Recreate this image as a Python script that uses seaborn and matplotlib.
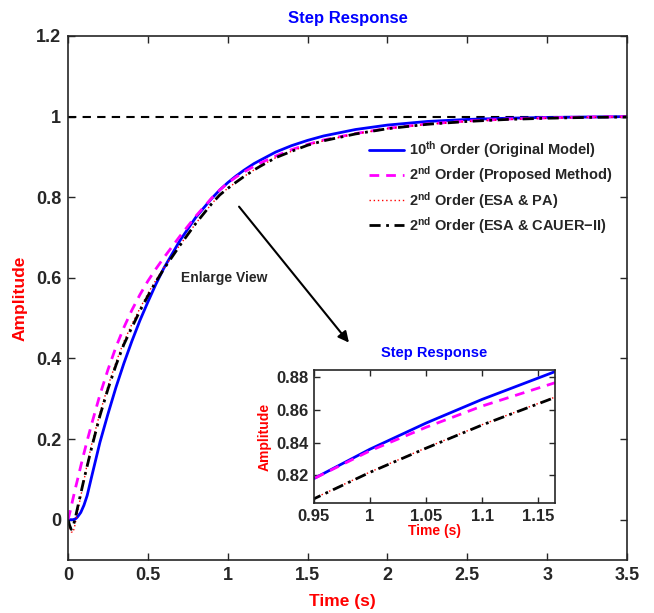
import matplotlib
matplotlib.use("Agg")
import matplotlib.pyplot as plt
import seaborn as sns
import numpy as np
from matplotlib.ticker import FuncFormatter, FixedLocator

# ---------------- data ----------------
time_s = [0, 0.01, 0.02, 0.03, 0.04, 0.05, 0.06, 0.08, 0.1, 0.12, 0.15, 0.2, 0.25, 0.3,
          0.35, 0.4, 0.45, 0.5, 0.55, 0.6, 0.7, 0.8, 0.9, 0.95, 1.0, 1.05, 1.1, 1.165,
          1.2, 1.3, 1.4, 1.5, 1.6, 1.8, 2.0, 2.25, 2.5, 2.75, 3.0, 3.25, 3.5]

original_10th = [0, 0, 0, 0, 0.001, 0.003, 0.007, 0.018, 0.036, 0.06, 0.11, 0.192, 0.262, 0.328,
                 0.388, 0.443, 0.494, 0.54, 0.584, 0.624, 0.692, 0.75, 0.797, 0.818, 0.836, 0.852, 0.8665, 0.8835,
                 0.891, 0.912, 0.928, 0.941, 0.952, 0.968, 0.979, 0.988, 0.993, 0.996, 0.998, 0.999, 1.0]

proposed_2nd = [0, 0.015, 0.032, 0.05, 0.067, 0.084, 0.1, 0.133, 0.165, 0.196, 0.24, 0.31, 0.372, 0.428,
                0.477, 0.52, 0.558, 0.592, 0.622, 0.65, 0.703, 0.753, 0.798, 0.818, 0.835, 0.8494, 0.8624, 0.8767,
                0.884, 0.902, 0.918, 0.931, 0.942, 0.958, 0.971, 0.982, 0.989, 0.994, 0.997, 0.999, 1.0]

esa_pa_2nd = [0, -0.018, -0.03, -0.032, -0.02, 0.0, 0.02, 0.058, 0.097, 0.138, 0.19, 0.265, 0.331, 0.39,
              0.442, 0.485, 0.524, 0.561, 0.594, 0.625, 0.681, 0.735, 0.784, 0.8058, 0.822, 0.8368, 0.851, 0.8679,
              0.8762, 0.898, 0.914, 0.929, 0.94, 0.957, 0.97, 0.981, 0.988, 0.993, 0.996, 0.998, 0.999]

esa_cauer_2nd = [0, -0.014, -0.024, -0.018, -0.005, 0.012, 0.03, 0.065, 0.1, 0.133, 0.182, 0.258, 0.324, 0.383,
                 0.435, 0.477, 0.518, 0.555, 0.59, 0.622, 0.68, 0.735, 0.784, 0.8056, 0.8218, 0.8366, 0.8508, 0.8677,
                 0.876, 0.898, 0.914, 0.929, 0.94, 0.957, 0.97, 0.981, 0.988, 0.993, 0.996, 0.998, 0.999]

steady_t = [0, 3.5]
steady_v = [1, 1]

legend_labels = [r"10$^{\mathbf{th}}$ Order (Original Model)",
                 r"2$^{\mathbf{nd}}$ Order (Proposed Method)",
                 r"2$^{\mathbf{nd}}$ Order (ESA & PA)",
                 r"2$^{\mathbf{nd}}$ Order (ESA & CAUER$-$II)"]

main_xticks = [0, 0.5, 1, 1.5, 2, 2.5, 3, 3.5]
main_yticks = [0, 0.2, 0.4, 0.6, 0.8, 1, 1.2]
inset_xticks = [0.95, 1, 1.05, 1.1, 1.15]
inset_yticks = [0.82, 0.84, 0.86, 0.88]

# ---------------- style ----------------
sns.set_style("ticks")
plt.rcParams['font.family'] = ['Liberation Sans', 'DejaVu Sans']
plt.rcParams['font.weight'] = 'bold'
plt.rcParams['mathtext.fontset'] = 'custom'
plt.rcParams['mathtext.rm'] = 'Liberation Sans:bold'
plt.rcParams['mathtext.bf'] = 'Liberation Sans:bold'
plt.rcParams['mathtext.default'] = 'bf'

W, H = 654, 613
fig = plt.figure(figsize=(W / 100, H / 100), dpi=100)
fig.patch.set_facecolor('white')

def rect(l, t, r, b):
    return [l / W, 1 - b / H, (r - l) / W, (b - t) / H]

ax = fig.add_axes(rect(68, 36, 627, 560))

fmt = FuncFormatter(lambda v, p: ('%g' % round(v, 4)))

def draw(axis):
    sns.lineplot(x=time_s, y=original_10th, ax=axis, color='#0000ff', linewidth=2.0,
                 label=legend_labels[0], estimator=None, sort=False)
    sns.lineplot(x=time_s, y=proposed_2nd, ax=axis, color='#ff00ff', linewidth=2.0,
                 linestyle=(0, (3.5, 2.5)), label=legend_labels[1], estimator=None, sort=False)
    sns.lineplot(x=time_s, y=esa_pa_2nd, ax=axis, color='#ff0000', linewidth=1.0,
                 linestyle=(0, (1, 2)), label=legend_labels[2], estimator=None, sort=False)
    sns.lineplot(x=time_s, y=esa_cauer_2nd, ax=axis, color='black', linewidth=2.0,
                 linestyle=(0, (4, 2, 1, 2)), label=legend_labels[3], estimator=None, sort=False)

draw(ax)
ax.plot(steady_t, steady_v, color='black', linewidth=1.5, linestyle=(0, (4, 3)), zorder=1)

ax.set_xlim(0, 3.5)
ax.set_ylim(-0.1, 1.2)
ax.xaxis.set_major_locator(FixedLocator(main_xticks))
ax.yaxis.set_major_locator(FixedLocator(main_yticks))
ax.xaxis.set_major_formatter(fmt)
ax.yaxis.set_major_formatter(fmt)
ax.tick_params(direction='in', length=5, width=1, top=True, right=True, labelsize=13, pad=5)
for lab in ax.get_xticklabels() + ax.get_yticklabels():
    lab.set_fontweight('bold')
for s in ax.spines.values():
    s.set_visible(True)
    s.set_linewidth(1.2)
ax.set_title("Step Response", color='#0000ff', fontsize=12, fontweight='bold', pad=9)
ax.set_xlabel("Time (s)", color='red', fontsize=12.5, fontweight='bold', labelpad=10)
ax.xaxis.set_label_coords(0.49, -0.065)
ax.set_ylabel("Amplitude", color='red', fontsize=12.5, fontweight='bold', labelpad=6)

leg = ax.legend(loc='upper right', bbox_to_anchor=(0.99, 0.82), frameon=False,
                fontsize=10.5, handlelength=2.4, handletextpad=0.35, labelspacing=0.3,
                borderaxespad=0.2)
for txt in leg.get_texts():
    txt.set_fontweight('bold')

ax.text(0.71, 0.60, "Enlarge View", fontsize=10, fontweight='bold', ha='left', va='center')
ax.annotate("", xy=(1.77, 0.434), xytext=(1.06, 0.782),
            arrowprops=dict(arrowstyle='-|>', color='black', lw=1.5, mutation_scale=16))

# ---------------- inset ----------------
axi = fig.add_axes(rect(314, 370, 555, 503))
draw(axi)
if axi.get_legend() is not None:
    axi.get_legend().remove()
axi.set_xlim(0.95, 1.165)
axi.set_ylim(0.803, 0.8845)
axi.xaxis.set_major_locator(FixedLocator(inset_xticks))
axi.yaxis.set_major_locator(FixedLocator(inset_yticks))
axi.xaxis.set_major_formatter(fmt)
axi.yaxis.set_major_formatter(fmt)
axi.tick_params(direction='in', length=4, width=1, top=True, right=True, labelsize=12, pad=4)
for lab in axi.get_xticklabels() + axi.get_yticklabels():
    lab.set_fontweight('bold')
for s in axi.spines.values():
    s.set_visible(True)
    s.set_linewidth(1.2)
axi.set_title("Step Response", color='#0000ff', fontsize=10.5, fontweight='bold', pad=9)
axi.set_xlabel("Time (s)", color='red', fontsize=10, fontweight='bold', labelpad=0)
axi.set_ylabel("Amplitude", color='red', fontsize=10, fontweight='bold', labelpad=3)

fig.savefig("out.png", dpi=100, facecolor='white')
